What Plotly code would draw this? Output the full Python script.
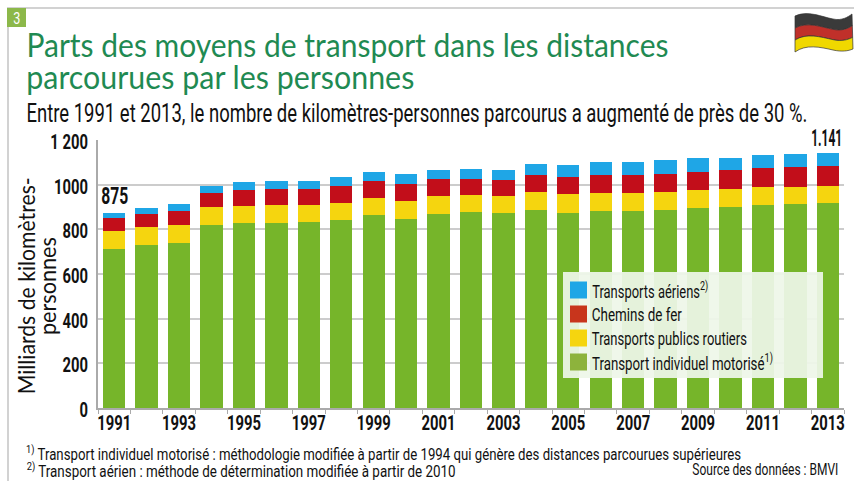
import json
import plotly.graph_objects as go

years = list(range(1991, 2014))
odd_years = [y for y in years if y % 2 == 1]
y_ticks = [0, 200, 400, 600, 800, 1000, 1200]
y_tick_labels = ["0", "200", "400", "600", "800", "1000", "1 200"]

individuel = [712, 730, 740, 820, 830, 830, 834, 843, 864, 848, 870, 879, 875, 887, 875, 882, 882, 888, 897, 902, 911, 914, 918]
routiers = [82, 81, 80, 79, 76, 77, 73, 76, 78, 79, 78, 76, 76, 82, 83, 82, 82, 81, 81, 79, 79, 76, 78]
fer = [58, 58, 64, 65, 72, 74, 74, 75, 76, 75, 77, 72, 70, 74, 76, 79, 79, 80, 80, 83, 86, 89, 89]
aeriens = [23, 27, 28, 30, 34, 34, 37, 39, 39, 44, 42, 42, 45, 50, 54, 57, 60, 63, 62, 54, 57, 58, 56]

GREEN, YELLOW, RED, BLUE = "#76B52A", "#F5D50F", "#C20E1A", "#1FA6E6"
FRAME = "#D2D2D2"
TITLE_GREEN = "#1F8A52"
COND = "Roboto"
W, H = 854, 481
L, R, T, B = 98, 844, 140, 408

# Width each text takes in the original's condensed typeface
fit = {}


def px(x):
    return (x - L) / (R - L)


def py(y):
    return (B - y) / (B - T)


fig = go.Figure()
for name, vals, col in [("Transport individuel motorisé", individuel, GREEN),
                        ("Transports publics routiers", routiers, YELLOW),
                        ("Chemins de fer", fer, RED),
                        ("Transports aériens", aeriens, BLUE)]:
    fig.add_bar(x=years, y=vals, name=name, marker=dict(color=col, line=dict(width=0)), showlegend=False)

shapes = []
ann = []


def rect(x0, y0, x1, y1, fill, layer="above", op=1):
    shapes.append(dict(type="rect", xref="paper", yref="paper", x0=px(x0), x1=px(x1), y0=py(y0), y1=py(y1),
                       fillcolor=fill, opacity=op, layer=layer, line=dict(width=0)))


def text(x, y, s, size, color="#111", font=COND, angle=0, width=None):
    ann.append(dict(xref="paper", yref="paper", x=px(x), y=py(y), text=s, showarrow=False, xanchor="center",
                    yanchor="middle", textangle=angle, borderpad=0, borderwidth=0,
                    font=dict(family=font, size=size, color=color)))
    if width:
        fit[s.replace("<sup>", "").replace("</sup>", "")] = width


# Page frame and number tag
rect(7, 7, W, 9, FRAME)
rect(7, 7, 9, H, FRAME)
rect(7, 8, 26, 27, "#8CB84A")
text(16.5, 17.5, "3", 17, "#FFFFFF")

# Titles
text(347, 44, "Parts des moyens de transport dans les distances", 32, TITLE_GREEN, "Lato", width=642)
text(220, 76, "parcourues par les personnes", 32, TITLE_GREEN, "Lato", width=388)
text(416.5, 113, "Entre 1991 et 2013, le nombre de kilomètres-personnes parcourus a augmenté de près de 30 %.", 25, width=781)

# Axis title
text(26, 286, "Milliards de kilomètres-", 22.5, "#111", "Lato", angle=-90, width=217)
text(47, 286, "personnes", 22.5, "#111", "Lato", angle=-90, width=98)

# Value labels
ann.append(dict(x=years[0], y=875, yref="y", xref="x", text="<b>875</b>", showarrow=False, yanchor="bottom", yshift=1,
                font=dict(family=COND, size=24, color="#111")))
ann.append(dict(x=years[-1], y=1141, yref="y", xref="x", text="<b>1.141</b>", showarrow=False, yanchor="bottom", yshift=0,
                xshift=-1, bgcolor="#FFFFFF", borderpad=0, font=dict(family=COND, size=23, color="#111")))
fit["875"] = 27
fit["1.141"] = 31

# Legend
rect(563, 272, 823, 378, "#EEF6E8", op=0.93)
legend_rows = [("Transports aériens<sup>2)</sup>", "#1FA6E6", 290, 650, 116), ("Chemins de fer", "#C8351C", 314, 637, 90),
               ("Transports publics routiers", "#F5D50F", 338, 669.5, 155),
               ("Transport individuel motorisé<sup>1)</sup>", "#8DB33C", 362, 682, 181)]
for label, col, yc, xc, wd in legend_rows:
    rect(570, yc - 8.5, 587, yc + 8.5, col)
    text(xc, yc, label, 19, width=wd)

# Footnotes
text(383.5, 453, "<sup>1)</sup> Transport individuel motorisé : méthodologie modifiée à partir de 1994 qui génère des distances parcourues supérieures", 16.5, width=715)
text(240.5, 470, "<sup>2)</sup> Transport aérien : méthode de détermination modifiée à partir de 2010", 16.5, width=429)
text(765, 469, "Source des données : BMVI", 16, width=146)

# Flag
top = [(795, 16), (808, 10), (822, 17), (833, 19), (842, 21), (848, 17), (852, 14)]
bot = [(795, 52), (806, 44), (820, 47), (833, 50), (842, 52), (848, 51), (853, 49)]


def edge(t):
    return [(a[0] + (b[0] - a[0]) * t, a[1] + (b[1] - a[1]) * t) for a, b in zip(top, bot)]


def curve(points):
    p = lambda q: f"{px(q[0]):.5f},{py(q[1]):.5f}"
    return " ".join("C" + " ".join(p(q) for q in points[i:i + 3]) for i in range(0, len(points), 3))


def band(t0, t1):
    e0, e1 = edge(t0), edge(t1)
    p = lambda q: f"{px(q[0]):.5f},{py(q[1]):.5f}"
    return "M" + p(e0[0]) + " " + curve(e0[1:]) + " L" + p(e1[-1]) + " " + curve(e1[-2::-1]) + " Z"


for t0, t1, col in [(0, 1 / 3, "#3A3A3A"), (1 / 3, 2 / 3, "#C0302A"), (2 / 3, 1, "#F0D800")]:
    shapes.append(dict(type="path", xref="paper", yref="paper", path=band(t0, t1), fillcolor=col,
                       line=dict(width=0.7, color="#333333"), layer="above"))

fig.update_layout(
    width=W, height=H, barmode="stack", bargap=0.31, plot_bgcolor="#FFFFFF", paper_bgcolor="#FFFFFF",
    margin=dict(l=L, r=W - R, t=T, b=H - B, autoexpand=False), shapes=shapes, annotations=ann,
    font=dict(family=COND, color="#111"),
    xaxis=dict(range=[1990.5, 2013.5], tickmode="array", tickvals=odd_years, ticktext=[f"<b>{y}</b>" for y in odd_years],
               ticks="", minor=dict(tickmode="array", tickvals=[y - 0.5 for y in years] + [2013.5], ticks="outside",
                                    ticklen=4, tickwidth=1, tickcolor="#AAAAAA", showgrid=False),
               showline=True, linecolor="#AAAAAA", linewidth=2, showgrid=False, tickangle=0, ticklabelstandoff=-4,
               tickfont=dict(family=COND, size=20, color="#111")),
    yaxis=dict(range=[0, 1200], tickmode="array", tickvals=y_ticks, ticktext=[f"<b>{t}</b>" for t in y_tick_labels],
               showline=True, linecolor="#AAAAAA", linewidth=2, gridcolor="#CCCCCC", gridwidth=1.5, zeroline=False,
               ticks="", ticklabelstandoff=4, ticklabelshift=2, tickfont=dict(family=COND, size=20, color="#111")),
)

# Full-bleed page; condensed look of the original typeface
POST = """
document.body.style.margin='0';
document.body.style.overflow='hidden';
var FIT=__FIT__;
var gd=document.getElementById('{plot_id}');
gd.querySelectorAll('text').forEach(function(t){
  var f=(t.style.fontFamily||'');
  if(!t.textContent||f.indexOf('Roboto')<0&&f.indexOf('Lato')<0)return;
  var s=t.textContent.replace(/\\u200b/g,'').replace(/\\s+/g,' ').trim();
  var n=t.getComputedTextLength();
  if(!(n>0))return;
  var w=FIT[s]||n*0.74;
  t.setAttribute('lengthAdjust','spacingAndGlyphs');
  t.setAttribute('textLength',w.toFixed(2));
});
""".replace("__FIT__", json.dumps(fit, ensure_ascii=False))
fig.write_html("out.html", post_script=POST, config={"displayModeBar": False})
